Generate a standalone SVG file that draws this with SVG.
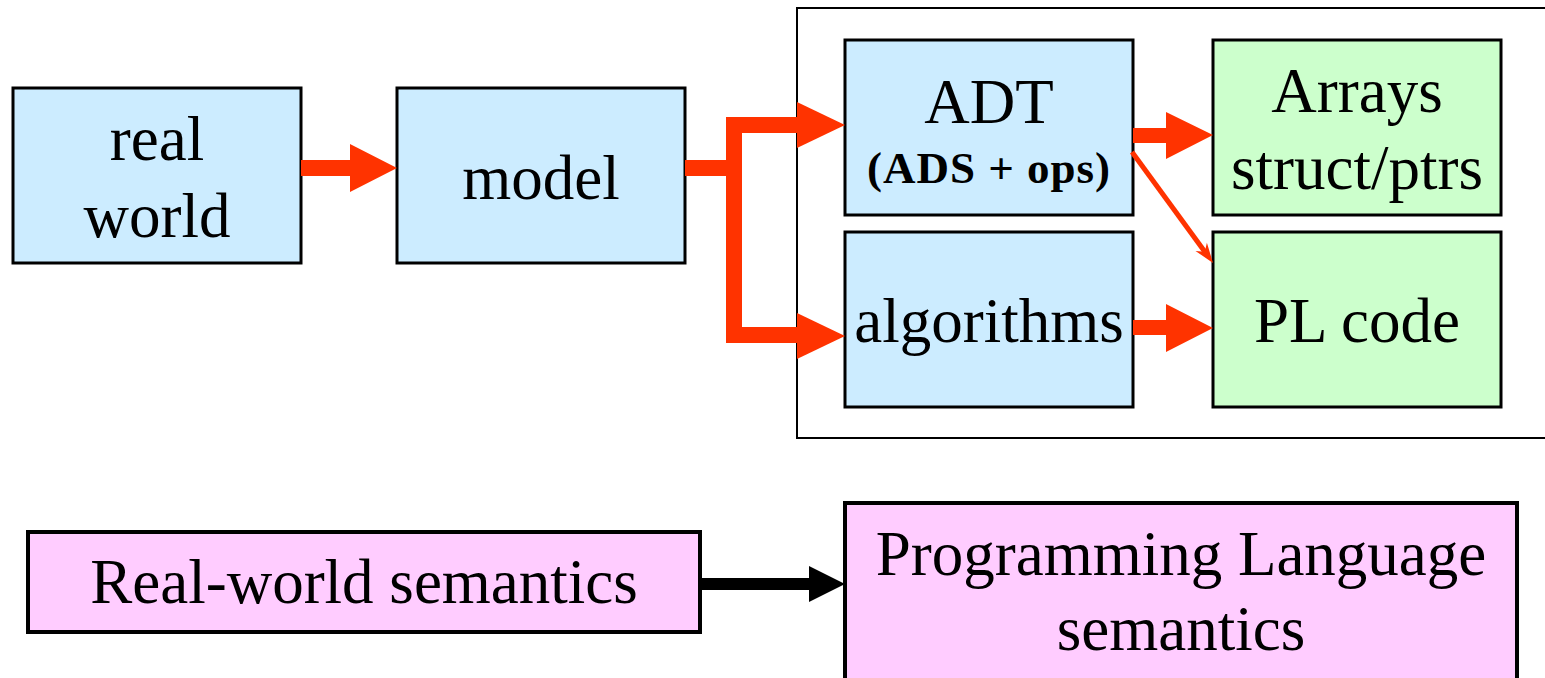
<svg xmlns="http://www.w3.org/2000/svg" width="1545" height="678" viewBox="0 0 1545 678">
<style>
.box{stroke:#000;stroke-width:3}
.blue{fill:#CCECFF}
.green{fill:#CCFFCC}
.pink{fill:#FFCCFF;stroke-width:4}
.t{font-family:"Liberation Serif","Times New Roman",serif;font-size:63px;fill:#000;text-anchor:middle}
.tb{font-family:"Liberation Serif","Times New Roman",serif;font-size:45px;font-weight:bold;fill:#000;text-anchor:middle;letter-spacing:1px}
.red{fill:#FF3300}
.redline{fill:none;stroke:#FF3300;stroke-width:16;stroke-linejoin:miter;stroke-linecap:butt}
</style>
<rect width="1545" height="678" fill="#fff"/>
<g id="container">
<rect x="797" y="8" width="760" height="430" fill="none" stroke="#000" stroke-width="2"/>
</g>
<g id="real-world">
<rect class="box blue" x="13" y="88" width="288" height="175"/>
<text class="t" x="157" y="160">real</text>
<text class="t" x="157" y="237">world</text>
</g>
<g id="model">
<rect class="box blue" x="397" y="88" width="288" height="175"/>
<text class="t" x="541" y="199">model</text>
</g>
<g id="adt">
<rect class="box blue" x="845" y="40" width="288" height="175"/>
<text class="t" x="989" y="123">ADT</text>
<text class="tb" x="989" y="183">(ADS + ops)</text>
</g>
<g id="arrays">
<rect class="box green" x="1213" y="40" width="288" height="175"/>
<text class="t" x="1357" y="112">Arrays</text>
<text class="t" x="1357" y="189">struct/ptrs</text>
</g>
<g id="algorithms">
<rect class="box blue" x="845" y="232" width="288" height="175"/>
<text class="t" x="989" y="342">algorithms</text>
</g>
<g id="plcode">
<rect class="box green" x="1213" y="232" width="288" height="175"/>
<text class="t" x="1357" y="342">PL code</text>
</g>
<g id="rw-semantics">
<rect class="box pink" x="28" y="532" width="672" height="100"/>
<text class="t" x="364" y="603">Real-world semantics</text>
</g>
<g id="pl-semantics">
<rect class="box pink" x="845" y="503" width="672" height="190"/>
<text class="t" x="1181" y="575">Programming Language</text>
<text class="t" x="1181" y="650">semantics</text>
</g>
<g id="connectors">
<polygon class="red" points="301,160 350,160 350,144 397,168 350,192 350,176 301,176"/>
<path class="redline" d="M685,168 H734 M797,125 H734 V335 H797"/>
<polygon class="red" points="797,102 845,125 797,148"/>
<polygon class="red" points="797,313 845,336 797,359"/>
<polygon class="red" points="1133,128 1166,128 1166,112 1213,135 1166,159 1166,143 1133,143"/>
<polygon class="red" points="1133,320 1166,320 1166,304 1213,328 1166,352 1166,335 1133,335"/>
<line x1="1132" y1="152" x2="1205" y2="252" stroke="#FF3300" stroke-width="5"/>
<polygon class="red" points="1213,263 1195.5,250.9 1204.8,251.7 1206.9,242.7"/>
<rect x="700" y="578" width="110" height="12" fill="#000"/>
<polygon points="809,566 845,584 809,602" fill="#000"/>
</g>
</svg>
